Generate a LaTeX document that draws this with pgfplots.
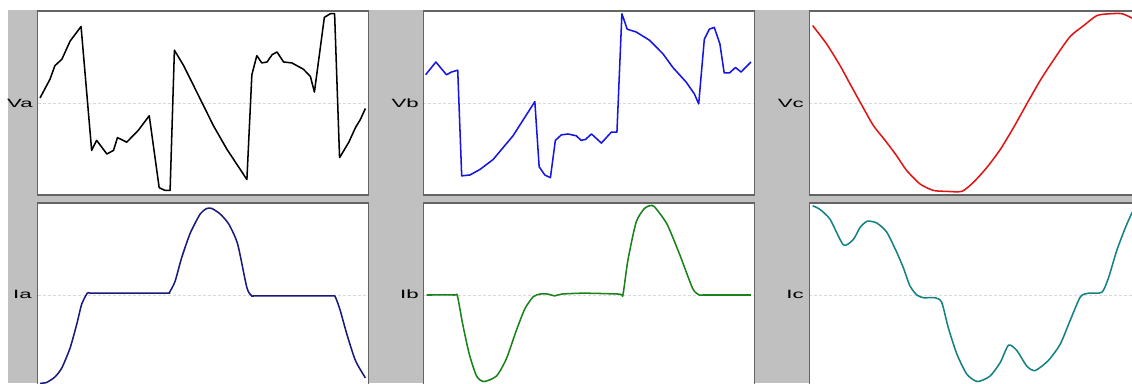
\documentclass[border=0pt]{standalone}
\usepackage{pgfplots}
\pgfplotsset{compat=1.18}
\usepackage{fontspec}
\setmainfont{Liberation Sans}
\definecolor{bggray}{RGB}{192,192,192}
\definecolor{frame}{RGB}{100,100,100}
\definecolor{cVb}{RGB}{20,20,230}
\definecolor{cVc}{RGB}{225,20,20}
\definecolor{cIa}{RGB}{25,25,125}
\definecolor{cIb}{RGB}{25,130,25}
\definecolor{cIc}{RGB}{20,130,130}
\pgfplotsset{panel/.style={
  scale only axis, width=248.25pt, height=138pt,
  xmin=0, xmax=100, ymin=-1.01, ymax=1.01,
  axis background/.style={fill=white},
  axis line style={draw=frame, line width=0.9pt},
  xtick=\empty, ytick={0}, yticklabels={}, ymajorgrids,
  major grid style={dash pattern=on 2.25pt off 1.5pt, draw=black!15, line width=0.6pt},
  major tick length=0pt,
  anchor=north west, clip=true,
  every axis plot/.append style={line width=1.15pt, line join=round, mark=none},
}}
\newcommand{\lab}[1]{{\fontsize{9pt}{10pt}\selectfont\scalebox{1.85}[1]{#1}}}
\begin{document}
\begin{tikzpicture}[x=0.75pt,y=0.75pt]
\useasboundingbox (0,0) rectangle (1132,383);
\fill[white] (0,0) rectangle (1132,383);
\fill[bggray] (8,0) rectangle (1132,373);
% ---- Va
\begin{axis}[panel, at={(28.275pt,279pt)}]
\addplot[black] coordinates {(0.7,0.055) (3.7,0.26) (5.2,0.41) (7.3,0.48) (9.8,0.68) (13.1,0.84) (16.3,-0.52) (17.8,-0.41) (20.9,-0.56) (22.9,-0.52) (24.1,-0.38) (26.9,-0.43) (30.4,-0.30) (33.7,-0.14) (36.7,-0.93) (38.5,-0.96) (40.0,-0.96) (41.3,0.58) (44.1,0.41) (49.1,0.044) (53.1,-0.25) (57.2,-0.51) (63.2,-0.84) (64.7,0.31) (66.2,0.52) (67.7,0.44) (69.3,0.45) (70.8,0.53) (72.3,0.56) (74.3,0.45) (76.8,0.44) (80.3,0.37) (82.4,0.29) (83.6,0.12) (86.6,0.94) (88.4,0.98) (89.7,0.98) (91.2,-0.60) (94.0,-0.43) (96.0,-0.27) (97.5,-0.18) (99.0,-0.06)};
\end{axis}
% ---- Vb
\begin{axis}[panel, at={(317.475pt,279pt)}]
\addplot[cVb] coordinates {(0.7,0.31) (3.8,0.45) (7.0,0.31) (8.5,0.34) (10.4,0.36) (11.6,-0.80) (14.1,-0.79) (17.1,-0.73) (21.1,-0.62) (27.1,-0.36) (33.7,0.015) (35.0,-0.70) (36.7,-0.79) (38.4,-0.82) (39.9,-0.41) (41.7,-0.35) (43.7,-0.34) (46.2,-0.36) (47.7,-0.41) (49.0,-0.40) (50.8,-0.34) (53.8,-0.44) (56.8,-0.32) (58.5,-0.32) (60.0,0.98) (61.6,0.81) (64.3,0.78) (68.3,0.69) (72.4,0.54) (75.4,0.39) (79.4,0.23) (81.9,0.10) (83.2,-0.01) (84.9,0.70) (86.4,0.81) (87.9,0.83) (89.6,0.65) (90.9,0.33) (92.5,0.33) (94.3,0.39) (96.0,0.34) (99.0,0.45)};
\end{axis}
% ---- Vc
\begin{axis}[panel, at={(606.975pt,279pt)}]
\addplot[cVc, smooth, tension=0.4] coordinates {(1.0,0.85) (5.2,0.65) (9.3,0.41) (12.3,0.21) (15.8,-0.02) (19.4,-0.25) (22.9,-0.41) (26.4,-0.58) (29.4,-0.74) (33.5,-0.89) (37.5,-0.96) (41.5,-0.97) (46.1,-0.97) (49.6,-0.87) (53.6,-0.71) (57.7,-0.51) (61.7,-0.27) (65.7,-0.01) (69.8,0.25) (74.3,0.50) (78.8,0.73) (82.9,0.85) (86.9,0.96) (90.9,0.98) (94.5,0.98) (97.6,0.93) (99.0,0.89)};
\end{axis}
% ---- Ia
\begin{axis}[panel, at={(28.275pt,135pt)}]
\addplot[cIa, smooth, tension=0.4] coordinates {(0.7,-0.97) (2.7,-0.96) (5.2,-0.90) (7.3,-0.80) (9.8,-0.58) (11.8,-0.32) (13.3,-0.10) (15.0,0.02) (16.0,0.02) (22.9,0.02) (38.8,0.02) (39.8,0.03) (41.5,0.15) (43.5,0.41) (46.1,0.68) (49.1,0.89) (51.1,0.95) (52.6,0.95) (55.1,0.89) (57.7,0.78) (60.4,0.56) (63.2,0.08) (64.7,-0.01) (65.7,-0.01) (79.3,-0.01) (88.9,-0.01) (89.9,-0.02) (91.4,-0.17) (93.4,-0.43) (96.0,-0.72) (99.0,-0.91)};
\end{axis}
% ---- Ib
\begin{axis}[panel, at={(317.475pt,135pt)}]
\addplot[cIb, smooth, tension=0.4] coordinates {(1.0,0) (9.3,0) (10.3,-0.01) (11.9,-0.32) (13.9,-0.65) (16.1,-0.89) (18.3,-0.95) (22.1,-0.89) (25.1,-0.70) (28.1,-0.39) (30.7,-0.15) (33.2,-0.02) (35.2,0.01) (37.7,0.01) (39.7,-0.01) (41.7,0.01) (48.7,0.02) (59.3,0.01) (60.3,0.0) (61.8,0.38) (64.3,0.80) (66.8,0.95) (68.5,0.98) (69.8,0.97) (73.6,0.78) (77.4,0.45) (81.4,0.07) (83.4,0.0) (84.5,0.0) (99.0,0.0)};
\end{axis}
% ---- Ic
\begin{axis}[panel, at={(606.975pt,135pt)}]
\addplot[cIc, smooth, tension=0.4] coordinates {(1.0,0.98) (3.2,0.94) (6.3,0.83) (10.3,0.55) (13.3,0.61) (15.3,0.74) (17.5,0.81) (20.4,0.79) (23.4,0.69) (26.4,0.47) (28.4,0.30) (30.4,0.10) (32.5,0.0) (34.5,-0.03) (38.0,-0.03) (40.0,-0.08) (42.0,-0.36) (44.6,-0.65) (47.6,-0.87) (50.8,-0.95) (54.6,-0.89) (57.7,-0.74) (60.2,-0.55) (62.7,-0.61) (65.7,-0.78) (68.2,-0.83) (72.2,-0.72) (75.8,-0.54) (78.8,-0.28) (81.9,-0.02) (84.4,0.02) (88.4,0.03) (90.4,0.19) (92.9,0.49) (95.5,0.74) (97.6,0.91) (99.0,0.97)};
\end{axis}
% ---- labels
\node[anchor=east, inner sep=0pt] at (33,280) {\lab{Va}};
\node[anchor=east, inner sep=0pt] at (419,280) {\lab{Vb}};
\node[anchor=east, inner sep=0pt] at (804,280) {\lab{Vc}};
\node[anchor=east, inner sep=0pt] at (32,89) {\lab{Ia}};
\node[anchor=east, inner sep=0pt] at (419,89) {\lab{Ib}};
\node[anchor=east, inner sep=0pt] at (804,89) {\lab{Ic}};
\end{tikzpicture}
\end{document}
